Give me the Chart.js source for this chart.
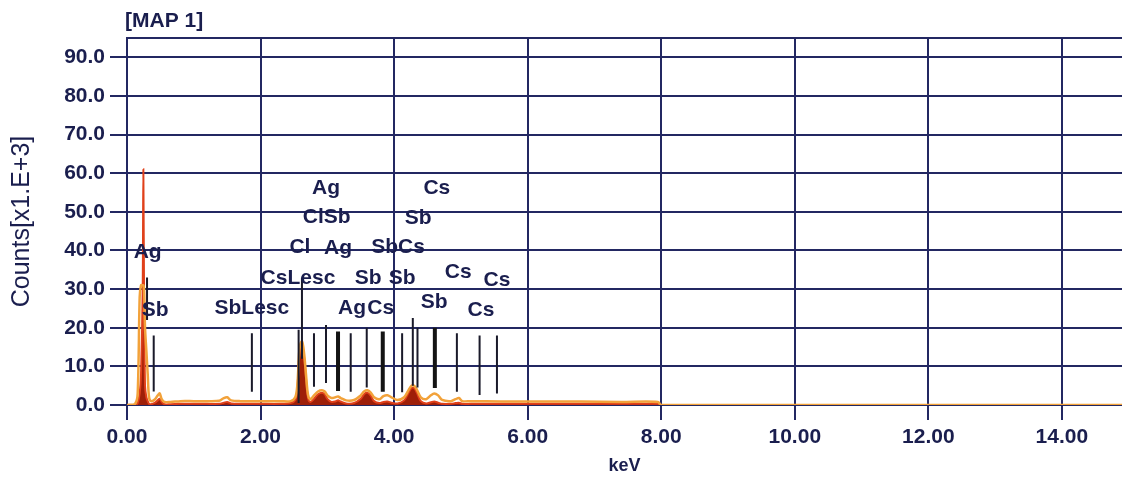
<!DOCTYPE html>
<html>
<head>
<meta charset="utf-8">
<script src="https://cdn.jsdelivr.net/npm/chart.js@4.4.1/dist/chart.umd.min.js"></script>
<style>
  html,body{margin:0;padding:0;background:#fff;}
  #wrap{width:1122px;height:477px;position:relative;}
</style>
</head>
<body>
<div id="wrap"><canvas id="c" width="1122" height="477"></canvas></div>
<script>
// ---- data ----
const chartTitle = "[MAP 1]";
const xTitle = "keV";
const yTitle = "Counts[x1.E+3]";

// spectrum energies (keV) and counts (x1000)
const keV = [0.00,0.12,0.16,0.19,0.21,0.235,0.245,0.255,0.27,0.29,0.31,0.33,0.36,0.42,0.46,0.49,0.52,0.56,0.65,0.80,1.00,1.20,1.38,1.45,1.50,1.56,1.70,2.00,2.30,2.45,2.52,2.55,2.58,2.60,2.62,2.64,2.66,2.68,2.70,2.72,2.75,2.80,2.86,2.92,2.96,3.00,3.06,3.12,3.16,3.20,3.28,3.40,3.50,3.55,3.60,3.65,3.70,3.78,3.84,3.90,3.96,4.05,4.15,4.22,4.26,4.30,4.34,4.40,4.48,4.55,4.60,4.66,4.72,4.85,4.92,4.97,5.02,5.15,5.60,6.20,6.80,7.40,7.95,8.00,9.00,11.00,13.00,15.00];
const outlineCounts = [0,0.3,3,28,31,31,31,30,20,14,8,2,1,1.5,2.5,3,1.5,0.8,0.8,1.0,1.0,1.0,1.1,1.8,2.0,1.2,1.0,1.0,1.0,1.0,2,5,14,16,16.5,15,12,8,4,2,1.5,2.5,3.5,3.8,3.5,2.5,1.8,2.0,2.2,1.8,1.2,1.3,2.5,3.5,3.8,3.2,2.0,1.5,2.3,2.5,2.0,1.3,2.0,4.0,5.0,5.0,4.0,2.0,1.5,2.5,3.0,2.5,1.3,1.0,1.5,1.8,1.0,1.0,0.9,0.9,0.9,0.8,0.8,0,0,0,0,0];
const fillCounts = [0,0,0.5,3,8,30,61,30,5,2,1,0.3,0.2,0.6,1.2,1.6,0.8,0.2,0.2,0.3,0.3,0.3,0.3,0.6,0.8,0.4,0.3,0.3,0.3,0.5,1.3,4,13,15.5,16,14,11,7,3,1.2,0.8,1.6,2.8,3.2,2.8,1.6,0.8,0.9,1.2,0.9,0.4,0.5,1.6,2.8,3.2,2.4,1.0,0.5,0.8,0.9,0.6,0.4,1.2,3.3,4.4,4.4,3.2,1.0,0.4,0.7,0.9,0.6,0.3,0.3,0.5,0.6,0.3,0.3,0.3,0.3,0.3,0.3,0.3,0,0,0,0,0];

// element marker lines (keV, top count, bottom count)
const markerKeV    = [0.30,0.40,1.87,2.57,2.62,2.80,2.98,3.35,3.59,4.12,4.28,4.35,4.94,5.28,5.54];
const markerTop    = [33,18,18.6,19.5,33,18.6,20.7,18.6,20,18.6,22.5,20,18.6,18,18];
const markerBottom = [22,3.5,3.4,0.5,12,4.7,5.7,3.4,4.5,3.3,5,4.5,3.4,2.6,3];
const majorKeV     = [3.16,3.83,4.61];
const majorTop     = [19,19,20];
const majorBottom  = [3.6,3.4,4.4];

// element labels (text, keV, count level)
const labelText   = ["Ag","Sb","SbLesc","CsLesc","Cl","Ag","ClSb","Ag","Sb","Sb","Ag","Cs","SbCs","Sb","Cs","Cs","Cs","Sb","Cs"];
const labelKeV    = [0.31,0.42,1.87,2.56,2.59,3.16,2.99,2.98,3.61,4.12,3.37,3.80,4.06,4.36,4.64,4.96,5.54,4.60,5.30];
const labelCounts = [39.5,24.5,25,32.8,40.8,40.6,48.6,56,32.8,32.8,25,25,40.8,48.3,56,34.4,32.3,26.6,24.5];

const yTicks = [0,10,20,30,40,50,60,70,80,90];
const xTicks = [0,2,4,6,8,10,12,14];

// ---- build ----
const NAVY = "#1a1e4e";
const GRID = "#232862";
const FONT = "'Liberation Sans', Arial, sans-serif";
function pts(xs, ys){ return xs.map((x,i)=>({x:x,y:ys[i]})); }
function segs(xs, tops, bots){
  const out=[];
  xs.forEach((x,i)=>{ out.push({x:x,y:tops[i]}); out.push({x:x,y:bots[i]}); out.push({x:x,y:null}); });
  return out;
}

const overlay = {
  id:'overlay',
  afterDraw(chart){
    const ctx=chart.ctx, a=chart.chartArea, xs=chart.scales.x, ys=chart.scales.y;
    ctx.save();
    ctx.strokeStyle=GRID; ctx.lineWidth=2;
    ctx.beginPath(); ctx.moveTo(a.left-1,a.top); ctx.lineTo(a.right,a.top); ctx.stroke();
    ctx.fillStyle=NAVY; ctx.font="bold 21px "+FONT;
    ctx.textAlign="center"; ctx.textBaseline="middle";
    labelText.forEach((t,i)=>{
      ctx.fillText(t, xs.getPixelForValue(labelKeV[i]), ys.getPixelForValue(labelCounts[i]));
    });
    ctx.font="bold 21px "+FONT;
    ctx.textAlign="left"; ctx.textBaseline="middle";
    ctx.fillText(chartTitle, a.left-2, 21);
    ctx.restore();
  }
};

new Chart(document.getElementById('c'), {
  type:'scatter',
  data:{
    datasets:[
      { label:'major', data:segs(majorKeV,majorTop,majorBottom), showLine:true, borderColor:"#141414", borderWidth:4, pointRadius:0, spanGaps:false, order:0 },
      { label:'markers', data:segs(markerKeV,markerTop,markerBottom), showLine:true, borderColor:"#1a1a2a", borderWidth:2, pointRadius:0, spanGaps:false, order:0 },
      { label:'outline', data:pts(keV,outlineCounts), showLine:true, borderColor:"#f2a23a", borderWidth:2.5, pointRadius:0, tension:0.3, fill:false, order:1 },
      { label:'fill', data:pts(keV,fillCounts), showLine:true, borderColor:"#e0401a", backgroundColor:"#9e1f08", borderWidth:2, pointRadius:0, tension:0.3, fill:'origin', order:2 }
    ]
  },
  options:{
    responsive:false, animation:false, devicePixelRatio:1,
    layout:{padding:{top:38,right:0,left:0,bottom:0}},
    plugins:{legend:{display:false}, tooltip:{enabled:false}, title:{display:false}},
    scales:{
      x:{
        type:'linear', min:0, max:14.9,
        afterFit(s){ s.height=72; },
        afterBuildTicks(s){ s.ticks = xTicks.map(v=>({value:v})); },
        ticks:{ callback:v=>v.toFixed(2), color:NAVY, font:{family:FONT, size:21, weight:'bold'}, padding:5, maxRotation:0 },
        grid:{ color:GRID, lineWidth:2, tickLength:15 },
        border:{ color:GRID, width:2 },
        title:{ display:true, text:xTitle, color:NAVY, font:{family:FONT, size:18, weight:'bold'}, padding:{top:0,bottom:0} }
      },
      y:{
        type:'linear', min:0, max:95,
        afterFit(s){ s.width=127; },
        afterBuildTicks(s){ s.ticks = yTicks.map(v=>({value:v})); },
        ticks:{ callback:v=>v.toFixed(1), color:NAVY, font:{family:FONT, size:21, weight:'bold'}, padding:5 },
        grid:{ color:GRID, lineWidth:2, tickLength:17 },
        border:{ color:GRID, width:2 },
        title:{ display:true, text:yTitle, color:NAVY, font:{family:FONT, size:25}, padding:{top:7,bottom:0} }
      }
    }
  },
  plugins:[overlay]
});
</script>
</body>
</html>
